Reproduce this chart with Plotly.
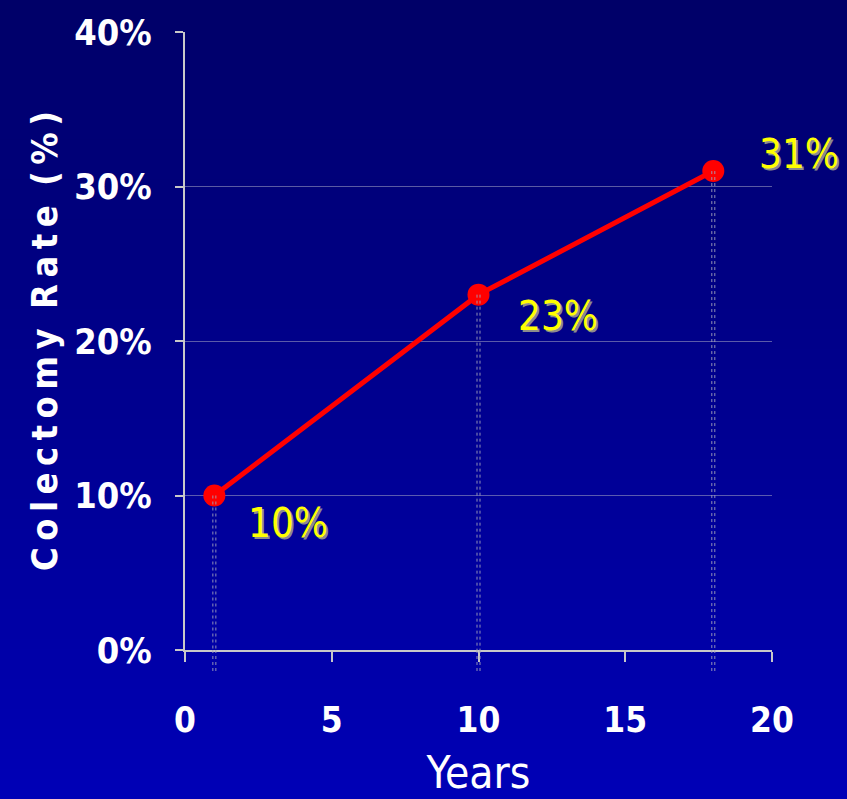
import plotly.graph_objects as go

# Colectomy rate over time
years = [1, 10, 18]
rates = [10, 23, 31]
rate_labels = ["10%", "23%", "31%"]

x_ticks = [0, 5, 10, 15, 20]
y_ticks = [0, 10, 20, 30, 40]
y_tick_text = ["0%", "10%", "20%", "30%", "40%"]

W, H = 847, 799
M_L, M_R, M_T, M_B = 185, 75, 32, 149
PLOT_W = W - M_L - M_R
PLOT_H = H - M_T - M_B

FONT = "DejaVu Sans Condensed, Liberation Sans Narrow, sans-serif"
THIN = "\u2009"


def paper_y(px_from_top):
    return (H - M_B - px_from_top) / PLOT_H


def paper_x(px_from_left):
    return (px_from_left - M_L) / PLOT_W


def spaced(text):
    # letter-spaced title: thin space between letters, wider gap between words
    return (THIN * 3).join(THIN.join(word) for word in text.split(" "))


fig = go.Figure()

# vertical gradient background, dark navy at top to brighter blue at bottom
top_rgb = (0, 0, 104)
bot_rgb = (0, 0, 182)
n_strips = 80
shapes = []
for i in range(n_strips):
    t = i / (n_strips - 1)
    c = tuple(round(a + (b - a) * t) for a, b in zip(top_rgb, bot_rgb))
    y0 = H * i / n_strips
    y1 = H * (i + 1) / n_strips + 1
    shapes.append(dict(
        type="rect", xref="paper", yref="paper", layer="below",
        x0=paper_x(0), x1=paper_x(W),
        y0=paper_y(y1), y1=paper_y(y0),
        fillcolor="rgb(%d,%d,%d)" % c, line=dict(width=0),
    ))

# double dotted drop lines from each point down past the x axis
px_per_unit = PLOT_W / 20.0
drop_bottom = paper_y(H - M_B + 22)
drop_color = "rgba(160,160,185,0.9)"
for xv, yv in zip(years, rates):
    for off in (-1.5, 1.5):
        xo = xv + off / px_per_unit
        shapes.append(dict(
            type="line", xref="x", yref="y", x0=xo, x1=xo, y0=yv, y1=0,
            line=dict(color=drop_color, width=1, dash="dot"),
        ))
        shapes.append(dict(
            type="line", xref="x", yref="paper", x0=xo, x1=xo,
            y0=0, y1=drop_bottom,
            line=dict(color=drop_color, width=1, dash="dot"),
        ))

fig.add_trace(go.Scatter(
    x=years, y=rates, mode="lines+markers",
    line=dict(color="#FF0000", width=5),
    marker=dict(color="#FF0000", size=22),
    showlegend=False, hoverinfo="skip",
))

# value labels in yellow with a grey drop shadow
label_offsets = [(32, -27), (37, -21), (44, 17)]
annotations = []
for xv, yv, txt, (dx, dy) in zip(years, rates, rate_labels, label_offsets):
    annotations.append(dict(
        x=xv, y=yv, xref="x", yref="y", text=txt, showarrow=False,
        xanchor="left", yanchor="middle", xshift=dx, yshift=dy,
        font=dict(family=FONT, size=40, color="#FFFF00",
                  shadow="2px 2px 0px #8C8C8C"),
    ))

fig.update_layout(
    width=W, height=H,
    margin=dict(l=M_L, r=M_R, t=M_T, b=M_B, autoexpand=False),
    paper_bgcolor="#000070",
    plot_bgcolor="rgba(0,0,0,0)",
    shapes=shapes,
    annotations=annotations,
    font=dict(family=FONT, color="white"),
    xaxis=dict(
        range=[0, 20], tickvals=x_ticks, ticktext=[str(v) for v in x_ticks],
        showgrid=False, zeroline=False, automargin=False,
        showline=True, linecolor="#C8C8C8", linewidth=2,
        ticks="outside", ticklen=10, tickwidth=2, tickcolor="#C8C8C8",
        ticklabelstandoff=28,
        tickfont=dict(family=FONT, size=35, color="white", weight="bold"),
        title=dict(text="Years", standoff=18,
                   font=dict(family=FONT, size=44, color="white")),
    ),
    yaxis=dict(
        range=[0, 40], tickvals=y_ticks, ticktext=y_tick_text,
        showgrid=True, gridcolor="rgba(150,150,190,0.6)", gridwidth=1,
        zeroline=False, automargin=False,
        showline=True, linecolor="#C8C8C8", linewidth=2,
        ticks="outside", ticklen=8, tickwidth=2, tickcolor="#C8C8C8",
        ticklabelstandoff=16,
        tickfont=dict(family=FONT, size=36, color="white", weight="bold"),
        title=dict(text=spaced("Colectomy Rate (%)"), standoff=6,
                   font=dict(family=FONT, size=36, color="white", weight="bold")),
    ),
)

fig.write_html("out.html")
